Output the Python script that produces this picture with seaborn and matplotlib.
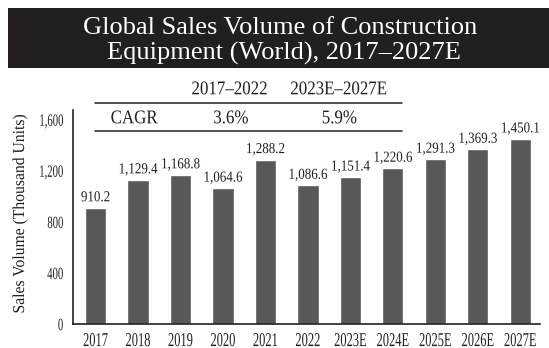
import matplotlib
matplotlib.use("Agg")
import matplotlib.pyplot as plt
import seaborn as sns
import pandas as pd
from matplotlib.patches import Rectangle
from matplotlib.lines import Line2D
from matplotlib.patheffects import AbstractPathEffect
from matplotlib.transforms import Affine2D

years = ["2017", "2018", "2019", "2020", "2021", "2022", "2023E", "2024E", "2025E", "2026E", "2027E"]
volumes = [910.2, 1129.4, 1168.8, 1064.6, 1288.2, 1086.6, 1151.4, 1220.6, 1291.3, 1369.3, 1450.1]
yticks = [0, 400, 800, 1200, 1600]
cagr_periods = ["2017\u20132022", "2023E\u20132027E"]
cagr_values = ["3.6%", "5.9%"]
title_lines = ["Global Sales Volume of Construction", "Equipment (World), 2017\u20132027E"]


class Condense(AbstractPathEffect):
    """Reshape drawn glyphs (condensed typeface look) about an anchor."""

    def __init__(self, s=0.8, anchor="center", vertical=False, sy=1.0, yanchor="top"):
        super().__init__()
        self.s = s
        self.anchor = anchor
        self.vertical = vertical
        self.sy = sy
        self.yanchor = yanchor

    def draw_path(self, renderer, gc, tpath, affine, rgbFace=None):
        ext = tpath.get_extents(affine)
        if self.vertical:
            c = (ext.y0 + ext.y1) / 2
            t = affine + Affine2D().translate(0, -c).scale(1, self.s).translate(0, c)
        else:
            if self.anchor == "right":
                c = ext.x1
            elif self.anchor == "left":
                c = ext.x0
            else:
                c = (ext.x0 + ext.x1) / 2
            if self.yanchor == "top":
                cy = ext.y1
            elif self.yanchor == "center":
                cy = (ext.y0 + ext.y1) / 2
            else:
                cy = ext.y0
            t = affine + Affine2D().translate(-c, -cy).scale(self.s, self.sy).translate(c, cy)
        renderer.draw_path(gc, tpath, t, rgbFace)


sns.set_theme(style="white")
plt.rcParams["font.family"] = ["Liberation Serif", "DejaVu Serif"]

INK = "#231f20"
df = pd.DataFrame({"Year": years, "Volume": volumes})

W, H = 549, 348
fig = plt.figure(figsize=(W / 100, H / 100), dpi=100)
ax = fig.add_axes([73.3 / W, 1 - 324 / H, (540 - 73.3) / W, (324 - 110) / H])

sns.barplot(data=df, x="Year", y="Volume", color="#58585a", width=0.5,
            saturation=1, ax=ax)

ax.set_ylim(0, 1678)
ax.set_xlim(-0.523, 10.464)
ax.set_yticks(yticks)
ax.set_yticklabels([f"{v:,}" for v in yticks])
ax.tick_params(axis="x", labelsize=11.5, length=0, pad=5.5, colors=INK)
ax.tick_params(axis="y", labelsize=10, length=0, pad=7.2, colors=INK)
for t in ax.get_xticklabels():
    t.set_path_effects([Condense(0.78, "center", sy=1.23, yanchor="top")])
for t in ax.get_yticklabels():
    t.set_path_effects([Condense(0.77, "right", sy=1.24, yanchor="center")])

ax.set_xlabel("")
ax.set_ylabel("Sales Volume (Thousand Units)", fontsize=12, color=INK)
ax.yaxis.label.set_va("center")
ax.yaxis.set_label_coords((20 - 73.3) / (540 - 73.3), (324 - 214) / (324 - 110))
ax.yaxis.label.set_path_effects([Condense(0.94, vertical=True)])

for s in ["top", "right"]:
    ax.spines[s].set_visible(False)
for s in ["left", "bottom"]:
    ax.spines[s].set_color(INK)
    ax.spines[s].set_linewidth(1.2)

for i, v in enumerate(volumes):
    ax.text(i, v + 52, f"{v:,.1f}", ha="center", va="baseline", fontsize=11,
            color=INK, path_effects=[Condense(0.85)])

# Title box
fig.patches.append(Rectangle((8 / W, 1 - 68.3 / H), 1 - 8 / W, 60 / H,
                             transform=fig.transFigure, facecolor=INK,
                             edgecolor="none", zorder=0))
fig.text(280 / W, 1 - 34.3 / H, title_lines[0], ha="center", va="baseline",
         color="white", fontsize=19)
fig.text(284 / W, 1 - 60 / H, title_lines[1], ha="center", va="baseline",
         color="white", fontsize=19)

# CAGR table
tbl = dict(ha="center", va="baseline", fontsize=14, color=INK)
pe = [Condense(0.87)]
fig.text(230 / W, 1 - 94.3 / H, cagr_periods[0], path_effects=pe, **tbl)
fig.text(339.2 / W, 1 - 94.3 / H, cagr_periods[1], path_effects=pe, **tbl)
fig.text(134.2 / W, 1 - 123.3 / H, "CAGR", path_effects=pe, **tbl)
fig.text(230.8 / W, 1 - 123.3 / H, cagr_values[0], path_effects=pe, **tbl)
fig.text(339.2 / W, 1 - 123.3 / H, cagr_values[1], path_effects=pe, **tbl)
for yy in (103.3, 131):
    fig.lines.append(Line2D([95 / W, 402 / W], [1 - yy / H, 1 - yy / H],
                            transform=fig.transFigure, color=INK, linewidth=1.1))

fig.savefig("out.png", dpi=100)
